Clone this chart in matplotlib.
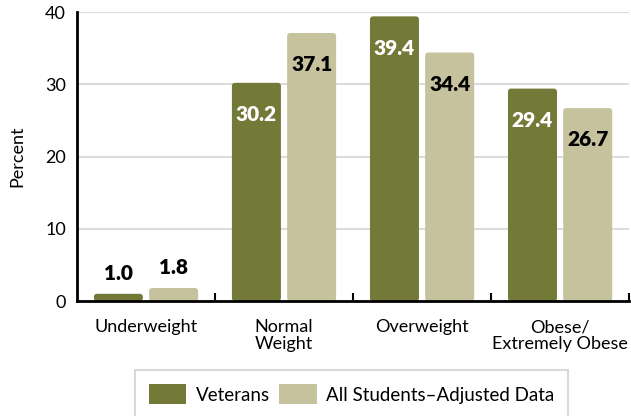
import matplotlib
matplotlib.use("Agg")
import matplotlib.pyplot as plt
from matplotlib.patches import FancyBboxPatch, Patch

plt.rcParams['font.family'] = ['Lato', 'DejaVu Sans']

categories = ['Underweight', 'Normal\nWeight', 'Overweight', 'Obese/\nExtremely Obese']
veterans = [1.0, 30.2, 39.4, 29.4]
all_students = [1.8, 37.1, 34.4, 26.7]

DARK = '#737a37'
LIGHT = '#c5c29d'

fig = plt.figure(figsize=(6.31, 4.16), dpi=100)
ax = fig.add_axes([0.122, 0.2764, 0.875, 0.6947])

x = range(len(categories))
width = 0.355
offset = 0.2

bars_v = ax.bar([i - offset for i in x], veterans, width, color=DARK)
bars_s = ax.bar([i + offset for i in x], all_students, width, color=LIGHT)


def round_bars(bars, color):
    # swap plain rectangles for ones with softened corners
    for b in bars:
        b.set_visible(False)
        p = FancyBboxPatch((b.get_x(), b.get_y()), b.get_width(), b.get_height(),
                           boxstyle="round,pad=0,rounding_size=0.022",
                           mutation_aspect=19, fc=color, ec='none', zorder=2)
        ax.add_patch(p)


round_bars(bars_v, DARK)
round_bars(bars_s, LIGHT)


def label_bars(bars, values, inside_color):
    for b, v in zip(bars, values):
        cx = b.get_x() + b.get_width() / 2
        if v < 5:
            ax.text(cx, v + 1.5, f'{v:.1f}', ha='center', va='bottom',
                    fontsize=15, fontweight='heavy', color='black')
        else:
            ax.text(cx, v - 4.4, f'{v:.1f}', ha='center', va='center',
                    fontsize=15, fontweight='heavy', color=inside_color, zorder=3)


label_bars(bars_v, veterans, 'white')
label_bars(bars_s, all_students, 'black')

ax.set_xlim(-0.5, 3.5)
ax.set_ylim(0, 40)
ax.set_yticks([0, 10, 20, 30, 40])
ax.yaxis.grid(True, color='#dcdcdc', linewidth=1.5)
ax.set_axisbelow(True)
ax.tick_params(axis='y', length=0, labelsize=13, pad=8)

ax.set_xticks(list(x))
ax.set_xticklabels(categories, fontsize=13, linespacing=1.05)
ax.tick_params(axis='x', which='major', length=0, pad=13)
ax.set_xticks([0.5, 1.5, 2.5, 3.5], minor=True)
ax.tick_params(axis='x', which='minor', direction='in', length=6, width=1.5)

for s in ['top', 'right']:
    ax.spines[s].set_visible(False)
ax.spines['left'].set_linewidth(2)
ax.spines['bottom'].set_linewidth(2)
ax.spines['left'].set_zorder(4)
ax.spines['bottom'].set_zorder(4)

ax.set_ylabel('Percent', fontsize=13, labelpad=14)

handles = [Patch(facecolor=DARK, label='Veterans'),
           Patch(facecolor=LIGHT, label='All Students\u2013Adjusted Data')]
leg = fig.legend(handles=handles, loc='upper center', bbox_to_anchor=(0.557, 0.11),
                 ncol=2, fontsize=13.5, frameon=True, fancybox=False,
                 handlelength=2.0, handleheight=1.25, columnspacing=0.5,
                 handletextpad=0.5, borderpad=0.75, borderaxespad=0)
leg.get_frame().set_edgecolor('#d0d0d0')
leg.get_frame().set_linewidth(1.5)

fig.savefig('out.png', dpi=100)
